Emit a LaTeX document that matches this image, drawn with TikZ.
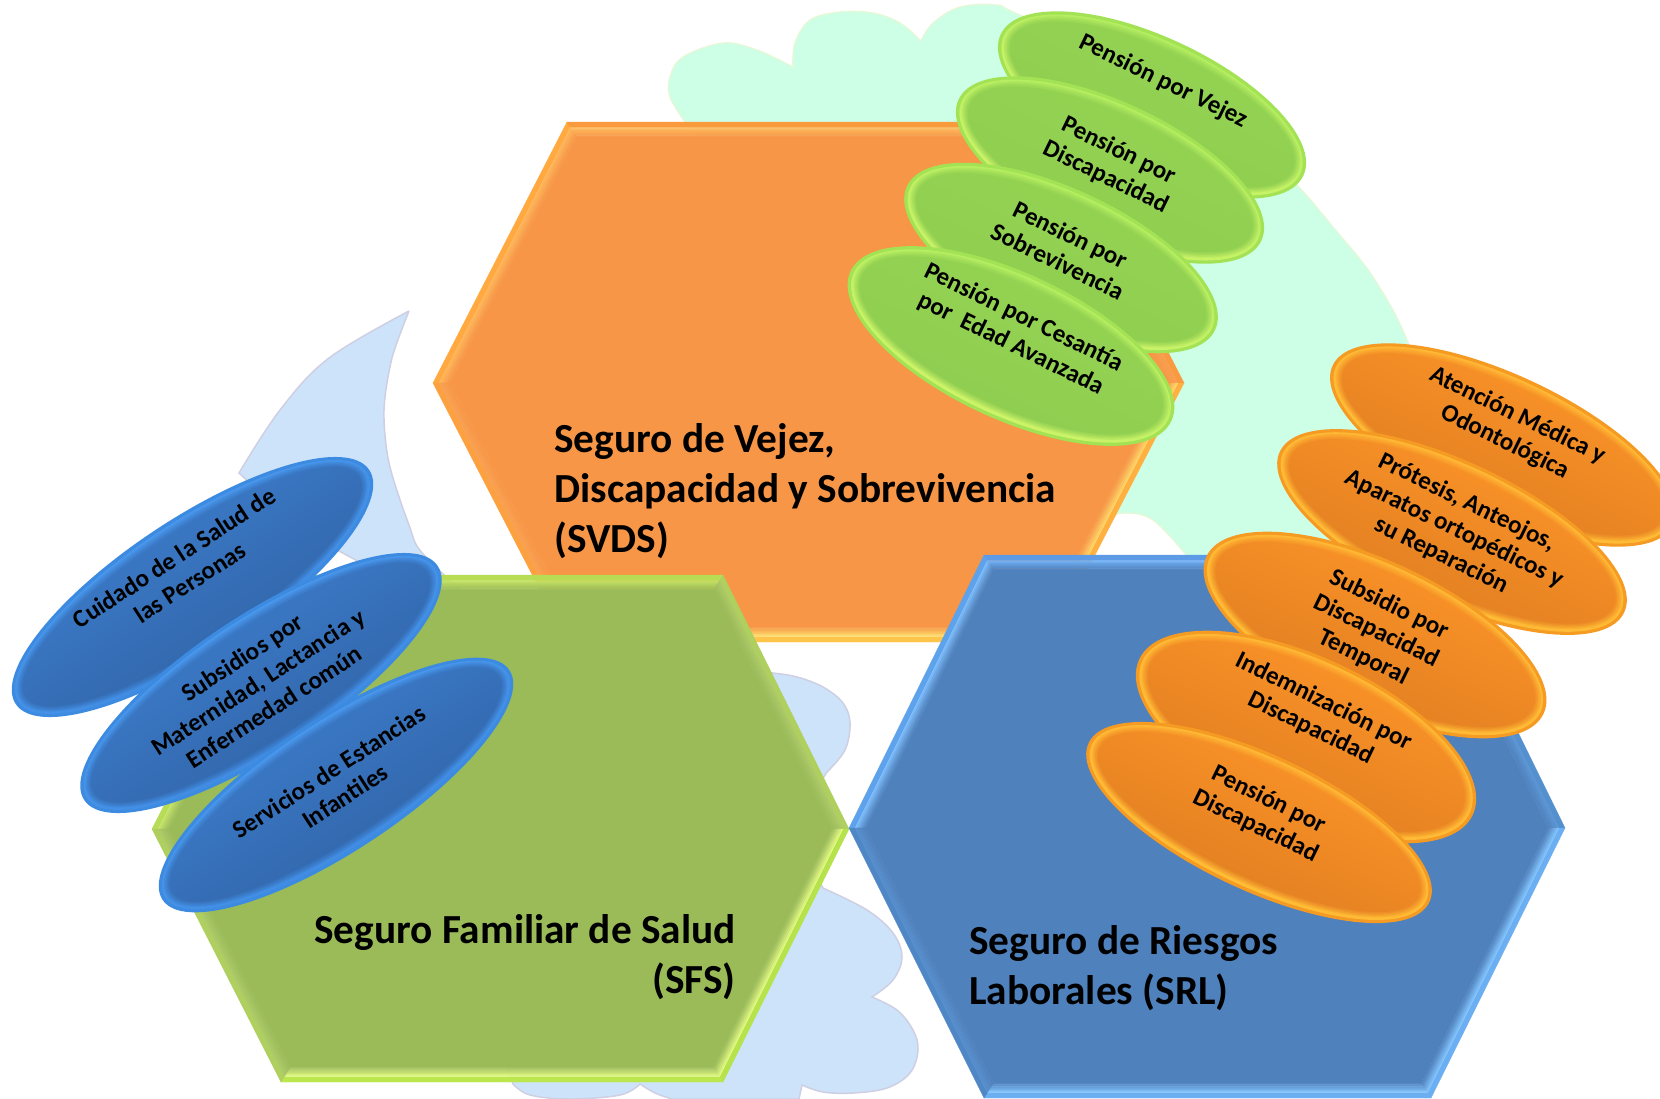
\documentclass[tikz,border=0pt]{standalone}
\usepackage{fontspec}
\setmainfont{Carlito}
\usetikzlibrary{calc}
\definecolor{mintbg}{HTML}{CCFFE6}
\definecolor{mintedge}{HTML}{E6F8D8}
\definecolor{bluebg}{HTML}{CCE3FA}
\definecolor{blueedge}{HTML}{CFCFE4}
\definecolor{hoM}{HTML}{F79646}
\definecolor{hgM}{HTML}{9BBB59}
\definecolor{hbM}{HTML}{4F81BD}
% oval palettes: rim, ring top/bottom, body top/bottom
\definecolor{grim}{HTML}{A2E254}\definecolor{gra}{HTML}{A8EA5C}\definecolor{grb}{HTML}{D8F66C}\definecolor{grc}{HTML}{94D452}\definecolor{grd}{HTML}{8FCC50}
\definecolor{orim}{HTML}{F59A22}\definecolor{ora}{HTML}{FFB534}\definecolor{orb}{HTML}{FFBE36}\definecolor{orc}{HTML}{FF9628}\definecolor{ord}{HTML}{DC7B20}
\definecolor{brim}{HTML}{3D8BE0}\definecolor{bra}{HTML}{4FA0F4}\definecolor{brb}{HTML}{3A84DC}\definecolor{brc}{HTML}{3F82D4}\definecolor{brd}{HTML}{2E5E9E}
\tikzset{
  bigtext/.style={inner sep=0pt,font=\fontsize{24.8}{30}\selectfont\bfseries,text=black},
  ovaltext/.style={inner sep=0pt,align=center,font=\fontsize{15}{17.6}\selectfont\bfseries,text=black},
}
\newcommand\hexcoords[2]{%
  \coordinate (A#1) at ({\xa+1.12*#2},\ym);
  \coordinate (B#1) at ({\xb+.613*#2},{\yt+#2});
  \coordinate (C#1) at ({\xc-.613*#2},{\yt+#2});
  \coordinate (D#1) at ({\xd-1.12*#2},\ym);
  \coordinate (E#1) at ({\xc-.613*#2},{\yb-#2});
  \coordinate (F#1) at ({\xb+.613*#2},{\yb-#2});
}
\newcommand\hexside[4]{%
  \definecolor{sideouter}{HTML}{#3}\definecolor{sideinner}{HTML}{#4}%
  \filldraw[sideouter,line width=.2pt] (#10) -- (#20) -- (#21) -- (#11) -- cycle;
  \foreach \i/\j/\m in {1/2/100,2/3/82,3/4/64,4/5/46,5/6/28,6/7/12}{
    \filldraw[sideinner!\m!\hexmain,line width=.2pt] (#1\i) -- (#2\i) -- (#2\j) -- (#1\j) -- cycle;
  }
}
\newcommand\hexprep{%
  \hexcoords{0}{0}\hexcoords{1}{5.5}\hexcoords{2}{6.5}\hexcoords{3}{8.2}
  \hexcoords{4}{9.9}\hexcoords{5}{11.6}\hexcoords{6}{13.3}\hexcoords{7}{15}
}
\newcommand\hexcore{\fill[\hexmain] (A7) -- (B7) -- (C7) -- (D7) -- (E7) -- (F7) -- cycle;}
\newcommand\ovalshape[6]{%
  \begin{scope}[shift={(#1,#2)},rotate=#5]
    \fill[#6rim] (0,0) ellipse [x radius=#3,y radius=#4];
    \path[top color=#6ra,bottom color=#6rb,shading angle=#5] (0,0) ellipse [x radius=#3-3.5,y radius=#4-3.5];
    \foreach \ins/\mx in {6/25,7.5/45,9/65,10.5/82,12/100}{
      \path[top color=#6rc!\mx!#6ra,bottom color=#6rd!\mx!#6rb,shading angle=#5] (0,-.6) ellipse [x radius=#3-\ins,y radius=#4-\ins];
    }
  \end{scope}
}
\begin{document}
\begin{tikzpicture}[x=0.6pt,y=-0.6pt]
\useasboundingbox (0,0) rectangle (1660,1098);
\fill[white] (0,0) rectangle (1660,1098);
% background clouds
\filldraw[fill=mintbg,draw=mintedge,line width=.8pt]
  plot[smooth,tension=.6] coordinates {(685,122) (670,97) (670,77) (683,57) (723,43) (757,50) (793,67)}
  -- plot[smooth,tension=.6] coordinates {(793,67) (795,43) (810,20) (840,12) (873,13) (900,23) (921,41)}
  -- plot[smooth,tension=.6] coordinates {(921,41) (933,23) (960,7) (997,5) (1020,15) (1150,70) (1250,140) (1297,185) (1333,227) (1373,277) (1407,340) (1430,420)}
  -- (1430,560) -- (1187,556)
  -- plot[smooth,tension=.6] coordinates {(1187,556) (1153,520) (1123,513) (1105,520)}
  -- (900,400) -- cycle;
\filldraw[fill=bluebg,draw=blueedge,line width=.9pt]
  plot[smooth,tension=.5] coordinates {(409,311) (392,358) (384,410) (389,463) (409,525) (425,556) (500,620) (600,650)}
  -- plot[smooth,tension=.6] coordinates {(740,670) (773,673) (797,677) (823,687) (843,703) (850,723) (845,750) (827,772)}
  -- (790,830) -- (823,888)
  -- plot[smooth,tension=.6] coordinates {(823,888) (867,910) (893,933) (902,957) (893,980) (872,997)}
  -- plot[smooth,tension=.6] coordinates {(872,997) (897,1010) (913,1030) (918,1050) (910,1073) (887,1088) (853,1093) (823,1092) (802,1085)}
  -- (799,1099) -- (672,1099)
  -- plot[smooth,tension=.6] coordinates {(672,1099) (655,1093) (640,1084)}
  -- plot[smooth,tension=.6] coordinates {(640,1084) (620,1095) (570,1099) (530,1095) (513,1084)}
  -- (450,900) -- (430,600) -- (300,530)
  -- plot[smooth,tension=.6] coordinates {(239,473) (280,410) (329,358) (409,311)};
% orange hexagon
\def\hexmain{hoM}\def\xa{433}\def\xb{567}\def\xc{1050}\def\xd{1184}\def\yt{122}\def\ym{383}\def\yb{642}
\hexprep
\hexside{A}{B}{FFA940}{FFB85C}
\hexside{B}{C}{F99A3C}{FFC062}
\hexside{C}{D}{FA9A40}{F9A050}
\hexside{D}{E}{FFB040}{FFD868}
\hexside{E}{F}{FFC44A}{FFE070}
\hexside{F}{A}{FDA040}{F9A252}
\hexcore
% green hexagon
\def\hexmain{hgM}\def\xa{152}\def\xb{281}\def\xc{723}\def\xd{849}\def\yt{575}\def\ym{829}\def\yb{1082}
\hexprep
\hexside{A}{B}{B6DC58}{C8E66C}
\hexside{B}{C}{B8DC54}{C6E464}
\hexside{C}{D}{AFD05E}{ADCB68}
\hexside{D}{E}{B6E24C}{E4FC84}
\hexside{E}{F}{BCE64E}{E4FC84}
\hexside{F}{A}{AFD05E}{ADCB68}
\hexcore
% blue hexagon
\def\hexmain{hbM}\def\xa{849}\def\xb{984}\def\xc{1431}\def\xd{1565}\def\yt{555}\def\ym{828}\def\yb{1098}
\hexprep
\hexside{A}{B}{5FA2EC}{80C0FF}
\hexside{B}{C}{5E9BE6}{74B4FA}
\hexside{C}{D}{5590CE}{5C96D6}
\hexside{D}{E}{6CAEF2}{84C6FF}
\hexside{E}{F}{6CAEF2}{84C6FF}
\hexside{F}{A}{4F86C6}{5890CE}
\hexcore
% titles
\node[bigtext,anchor=north west,align=left] (svds) at (554,423) {Seguro de Vejez,\\Discapacidad y Sobrevivencia\\(SVDS)};
\node[bigtext,anchor=north east,align=right] (sfs) at (736,914) {Seguro Familiar de Salud\\(SFS)};
\node[bigtext,anchor=north west,align=left] (srl) at (969,925) {Seguro de Riesgos\\Laborales (SRL)};
% green ovals
\ovalshape{1152}{105}{167}{68}{-25}{g}
\node[ovaltext,rotate=-26] (e1) at (1163,81.5) {Pensión por Vejez};
\ovalshape{1110}{170}{167}{68}{-25}{g}
\node[ovaltext,rotate=-26] (e2) at (1112,164) {Pensión por\\Discapacidad};
\ovalshape{1061}{258}{170}{69}{-25}{g}
\node[ovaltext,rotate=-26] (e3) at (1064,248) {Pensión por\\Sobrevivencia};
\ovalshape{1011}{346}{177}{73}{-25}{g}
\node[ovaltext,rotate=-26] (e4) at (1017,331) {Pensión por Cesantía\\por\ \ Edad Avanzada};
% orange ovals
\ovalshape{1503}{445}{188}{70}{-25}{o}
\node[ovaltext,rotate=-26] (o1) at (1511,429) {Atención Médica y\\Odontológica};
\ovalshape{1452}{532}{190}{71}{-25}{o}
\node[ovaltext,rotate=-26] (o2) at (1454,529) {Prótesis, Anteojos,\\Aparatos ortopédicos y\\su Reparación};
\ovalshape{1375}{635}{186}{74}{-25}{o}
\node[ovaltext,rotate=-26] (o3) at (1376,631) {Subsidio por\\Discapacidad\\Temporal};
\ovalshape{1306}{737}{184}{80}{-25}{o}
\node[ovaltext,rotate=-26] (o4) at (1317,715) {Indemnización por\\Discapacidad};
\ovalshape{1259}{822.5}{188}{68}{-25}{o}
\node[ovaltext,rotate=-26] (o5) at (1262,813) {Pensión por\\Discapacidad};
% blue ovals
\ovalshape{192.5}{587}{212}{68}{33.5}{b}
\node[ovaltext,rotate=33] (b1) at (182,570) {Cuidado de la Salud de\\las Personas};
\ovalshape{261}{683}{212}{68}{33.5}{b}
\node[ovaltext,rotate=33] (b2) at (258,682) {Subsidios por\\Maternidad, Lactancia y\\Enfermedad común};
\ovalshape{336}{785}{208}{66}{33.5}{b}
\node[ovaltext,rotate=33] (b3) at (337,784) {Servicios de Estancias\\Infantiles};
\end{tikzpicture}
\end{document}
